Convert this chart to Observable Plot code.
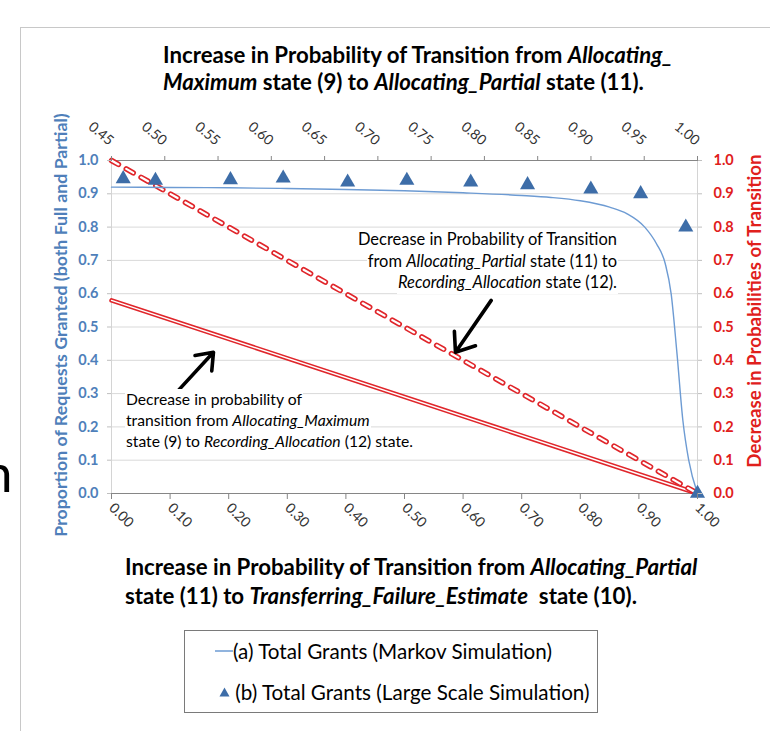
<!DOCTYPE html>
<html><head><meta charset="utf-8">
<script src="https://cdn.jsdelivr.net/npm/d3@7"></script>
<script src="https://cdn.jsdelivr.net/npm/@observablehq/plot@0.6"></script>
<style>
body{margin:0;background:#fff;font-family:Lato,"Open Sans",sans-serif;}
#wrap{position:relative;width:770px;height:731px;overflow:hidden;background:#fff;}
#frame{position:absolute;left:20px;top:27px;width:800px;height:800px;border-left:1px solid #c8c8c8;border-top:1px solid #c8c8c8;}
#chart{position:absolute;left:0;top:0;}
.ov{position:absolute;white-space:nowrap;color:#000;}
.ln{display:block;width:max-content;}
#topTitle{left:163px;top:41px;line-height:27px;font-weight:bold;font-size:18px;}
#botTitle{left:125px;top:552px;line-height:29px;font-weight:bold;font-size:18px;}
#ann1{right:152px;top:229px;line-height:21.5px;font-size:14.5px;color:#000;}
#ann1 .ln{margin-left:auto;background:#fff;padding:0 1px;}
#ann2{left:125px;top:389px;line-height:21px;font-size:14.5px;color:#000;}
#ann2 .ln{background:#fff;padding:0 1px;}
.rot{transform:translate(-50%,-50%) rotate(-90deg);font-weight:bold;font-size:16px;line-height:20px;}
#leftTitle{left:60px;top:325px;color:#4f7fba;}
#rightTitle{left:754px;top:311px;color:#e0201c;}
#legend{left:184px;top:630px;width:414px;height:83px;box-sizing:border-box;border:1px solid #7a7a7a;background:#fff;}
.li{position:absolute;transform:translateY(-50%);display:flex;align-items:center;font-size:16px;white-space:nowrap;color:#000;}
#nsvg{position:absolute;left:0;top:0;}
</style></head><body>
<div id="wrap">
  <div id="frame"></div>
  <svg id="nsvg" width="40" height="731"><text x="-17" y="492" font-family="Lato" font-size="53" fill="#000">n</text></svg>
  <div id="chart"></div>
  <div id="topTitle" class="ov"><span class="ln" id="tt1">Increase in Probability of Transition from <i>Allocating_</i></span><span class="ln"><i>Maximum</i> state (9) to <i>Allocating_Partial</i> state (11).</span></div>
  <div id="botTitle" class="ov"><span class="ln" id="bt1">Increase in Probability of Transition from <i>Allocating_Partial</i></span><span class="ln">state (11) to <i>Transferring_Failure_Estimate</i>&nbsp; state (10).</span></div>
  <div id="ann1" class="ov"><span class="ln" id="a11">Decrease in Probability of Transition</span><span class="ln">from <i>Allocating_Partial</i> state (11) to</span><span class="ln"><i>Recording_Allocation</i> state (12).</span></div>
  <div id="ann2" class="ov"><span class="ln">Decrease in probability of</span><span class="ln">transition from <i>Allocating_Maximum</i></span><span class="ln" id="a23">state (9) to <i>Recording_Allocation</i> (12) state.</span></div>
  <div id="leftTitle" class="ov rot">Proportion of Requests Granted (both Full and Partial)</div>
  <div id="rightTitle" class="ov rot">Decrease in Probabilities of Transition</div>
  <div id="legend" class="ov">
    <div class="li" style="left:30px;top:20px;"><svg width="18" height="4"><line x1="0" x2="18" y1="2" y2="2" stroke="#6d9bd3" stroke-width="1.5"/></svg><span id="lg1">(a) Total Grants (Markov Simulation)</span></div>
    <div class="li" style="left:34px;top:61px;"><svg width="11" height="10"><path d="M5.5,0.5L10.5,9.5L0.5,9.5Z" fill="#3d6da8"/></svg><span id="lg2">&nbsp;(b) Total Grants (Large Scale Simulation)</span></div>
  </div>
</div>
<script>
// Axis ticks
const bottomTicks = [0, 0.1, 0.2, 0.3, 0.4, 0.5, 0.6, 0.7, 0.8, 0.9, 1.0];
const topTickValues = [0.45, 0.50, 0.55, 0.60, 0.65, 0.70, 0.75, 0.80, 0.85, 0.90, 0.95, 1.00];
const yTicks = [0, 0.1, 0.2, 0.3, 0.4, 0.5, 0.6, 0.7, 0.8, 0.9, 1.0];

// (a) Total Grants (Markov Simulation)
const markovX = [0, 0.1, 0.2, 0.3, 0.4, 0.5, 0.6, 0.7, 0.75, 0.8, 0.85, 0.88, 0.91, 0.93, 0.945, 0.955, 0.965, 0.975, 0.985, 1.0];
const markovY = [0.92, 0.919, 0.918, 0.916, 0.913, 0.909, 0.903, 0.895, 0.889, 0.879, 0.86, 0.84, 0.80, 0.75, 0.69, 0.60, 0.42, 0.22, 0.10, 0.0];

// (b) Total Grants (Large Scale Simulation)
const largeX = [0.02, 0.075, 0.203, 0.293, 0.403, 0.504, 0.613, 0.71, 0.818, 0.903, 0.98, 1.0];
const largeY = [0.945, 0.94, 0.942, 0.947, 0.935, 0.94, 0.935, 0.927, 0.914, 0.90, 0.80, 0.0];

// Decrease in probability of transition (right axis)
const maxToRecX = [0, 1];
const maxToRecY = [0.58, 0];
const partToRecX = [0, 1];
const partToRecY = [1.0, 0];

// Annotation arrows (tail -> head, in data units)
const arrowX1 = [0.109, 0.648];
const arrowY1 = [0.30, 0.58];
const arrowX2 = [0.174, 0.587];
const arrowY2 = [0.424, 0.424];

const markov = markovX.map((x, i) => ({x, y: markovY[i]}));
const large = largeX.map((x, i) => ({x, y: largeY[i]}));
const maxToRec = maxToRecX.map((x, i) => ({x, y: maxToRecY[i]}));
const partToRec = partToRecX.map((x, i) => ({x, y: partToRecY[i]}));
const arrows = arrowX1.map((x1, i) => ({x1, y1: arrowY1[i], x2: arrowX2[i], y2: arrowY2[i]}));
const topPos = topTickValues.map(v => (v - 0.45) / 0.55);

const RED = "#e0262b";
const plot = Plot.plot({
  width: 770, height: 731,
  marginLeft: 111, marginRight: 73, marginTop: 160, marginBottom: 238,
  x: {domain: [0, 1]},
  y: {domain: [0, 1]},
  style: {fontFamily: "Lato", background: "transparent", overflow: "visible"},
  marks: [
    Plot.gridY(yTicks, {stroke: "#d9d9d9", strokeOpacity: 1}),
    Plot.ruleX([0, 1], {stroke: "#d4d4d4"}),
    Plot.ruleY([0, 1], {stroke: "#868686"}),
    Plot.line(maxToRec, {x: "x", y: "y", stroke: RED, strokeWidth: 4.5}),
    Plot.line(maxToRec, {x: "x", y: "y", stroke: "#fff", strokeWidth: 1.4}),
    Plot.line(partToRec, {x: "x", y: "y", stroke: RED, strokeWidth: 5.5, strokeDasharray: "8,9", strokeLinecap: "round"}),
    Plot.line(partToRec, {x: "x", y: "y", stroke: "#fff", strokeWidth: 2.2, strokeDasharray: "8,9"}),
    Plot.line(markov, {x: "x", y: "y", stroke: "#6d9bd3", strokeWidth: 1.4, curve: "monotone-x"}),
    Plot.dot(large, {x: "x", y: "y", symbol: "triangle", r: 5.6, fill: "#3d6da8"}),
    Plot.arrow(arrows, {x1: "x1", y1: "y1", x2: "x2", y2: "y2", stroke: "#000", strokeWidth: 3.6, headLength: 16, headAngle: 75}),
    Plot.axisY(yTicks, {anchor: "left", tickSize: 4, tickPadding: 9, stroke: "#bfbfbf", fill: "#4f7fba", fontWeight: "bold", fontSize: 14.5, tickFormat: d => d.toFixed(1), label: null}),
    Plot.axisY(yTicks, {anchor: "right", tickSize: 4, tickPadding: 12, stroke: "#bfbfbf", fill: "#e0201c", fontWeight: "bold", fontSize: 14.5, tickFormat: d => d.toFixed(1), label: null}),
    Plot.axisX(bottomTicks, {anchor: "bottom", tickSize: 6, tickPadding: 6, tickRotate: 45, textAnchor: "start", stroke: "#868686", fill: "#333", fontSize: 14, tickFormat: d => d.toFixed(2), label: null}),
    Plot.axisX(topPos, {anchor: "top", tickSize: 5, tickPadding: 13, tickRotate: 40, textAnchor: "end", stroke: "#868686", fill: "#333", fontSize: 14, tickFormat: d => (0.45 + 0.55 * d).toFixed(2), label: null})
  ]
});
document.getElementById("chart").appendChild(plot);

function fit(measureId, targetId, target) {
  const m = document.getElementById(measureId);
  const t = document.getElementById(targetId);
  const fs = parseFloat(getComputedStyle(t).fontSize);
  t.style.fontSize = (fs * target / m.offsetWidth) + "px";
}
fit("tt1", "topTitle", 510);
fit("bt1", "botTitle", 573);
fit("a11", "ann1", 262);
fit("a23", "ann2", 289);
fit("leftTitle", "leftTitle", 424);
fit("rightTitle", "rightTitle", 313);
(function(){
  const m = document.getElementById("lg2");
  const fs = parseFloat(getComputedStyle(m).fontSize);
  const s = fs * 360 / m.offsetWidth;
  document.querySelectorAll(".li").forEach(e => e.style.fontSize = s + "px");
})();
</script>
</body></html>
